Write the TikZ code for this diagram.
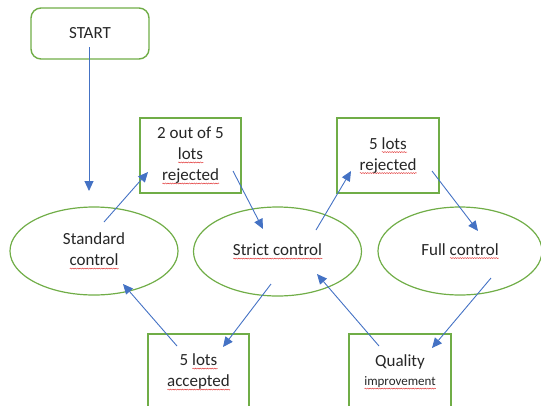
\documentclass[tikz,border=0pt]{standalone}
\usepackage{fontspec}
\setmainfont{Carlito}
\usetikzlibrary{arrows.meta,shapes.geometric,decorations.pathmorphing}
\definecolor{grn}{HTML}{70AD47}
\definecolor{blu}{HTML}{4472C4}
\definecolor{txt}{HTML}{262626}
\definecolor{squig}{HTML}{E03030}
\newsavebox\sqbox
\newlength\sqlen
\newcommand\sqw[1]{\sbox\sqbox{#1}\setlength\sqlen{\wd\sqbox}\rlap{\tikz[baseline=0pt]\draw[squig,line width=0.45pt,decorate,decoration={snake,amplitude=0.5pt,segment length=2.4pt}] (0pt,-3pt) -- (\sqlen,-3pt);}\usebox\sqbox}
\begin{document}
\begin{tikzpicture}[x=1pt,y=-1pt,
  box/.style={draw=grn, line width=1.4pt, align=center, inner sep=0pt, text=txt, font=\fontsize{17}{21}\selectfont},
  oval/.style={ellipse, draw=grn, line width=1.2pt, align=center, inner sep=0pt, text=txt, font=\fontsize{17}{21}\selectfont},
  arr/.style={blu, line width=0.9pt, -{Triangle[length=10pt,width=9pt]}}]
\path[use as bounding box, clip] (0,0) rectangle (541,405);
% nodes
\node[box, rounded corners=10pt, minimum width=118pt, minimum height=51pt] (start) at (90,33.5) {START};
\node[box, minimum width=101pt, minimum height=75pt] (rej2) at (190.5,155.5) {2 out of 5\\\sqw{lots}\\\sqw{rejected}};
\node[box, minimum width=102pt, minimum height=75pt] (rej5) at (388,155.5) {5 \sqw{lots}\\\sqw{rejected}};
\node[oval, minimum width=168pt, minimum height=88pt] (std) at (94,251) {Standard\\\sqw{control}};
\node[oval, minimum width=168pt, minimum height=89pt] (strict) at (277.5,251.5) {\sqw{Strict control}};
\node[oval, minimum width=164pt, minimum height=88pt] (full) at (460,251) {Full \sqw{control}};
\node[box, minimum width=101pt, minimum height=76pt] (acc) at (198.5,372) {5 \sqw{lots}\\\sqw{accepted}};
\node[box, minimum width=102pt, minimum height=76pt] (qual) at (400,372) {Quality\\[-2pt]{\fontsize{13}{16}\selectfont\sqw{improvement}}};
% connector end points
\coordinate (start-o) at (89,47);   \coordinate (std-i1) at (89,191);
\coordinate (std-o1) at (104,222);  \coordinate (rej2-i) at (148,172);
\coordinate (rej2-o) at (233,171);  \coordinate (strict-i1) at (263,229);
\coordinate (strict-o1) at (316,230); \coordinate (rej5-i) at (351,171);
\coordinate (rej5-o) at (432,171);  \coordinate (full-i) at (478,231);
\coordinate (full-o) at (491,278);  \coordinate (qual-i) at (432,348);
\coordinate (qual-o) at (379,346);  \coordinate (strict-i2) at (317,274);
\coordinate (strict-o2) at (271,284); \coordinate (acc-i) at (223,347);
\coordinate (acc-o) at (177,346);   \coordinate (std-i2) at (123,284);
% connectors
\draw[arr] (start-o) -- (std-i1);
\draw[arr] (std-o1) -- (rej2-i);
\draw[arr] (rej2-o) -- (strict-i1);
\draw[arr] (strict-o1) -- (rej5-i);
\draw[arr] (rej5-o) -- (full-i);
\draw[arr] (full-o) -- (qual-i);
\draw[arr] (qual-o) -- (strict-i2);
\draw[arr] (strict-o2) -- (acc-i);
\draw[arr] (acc-o) -- (std-i2);
\end{tikzpicture}
\end{document}
